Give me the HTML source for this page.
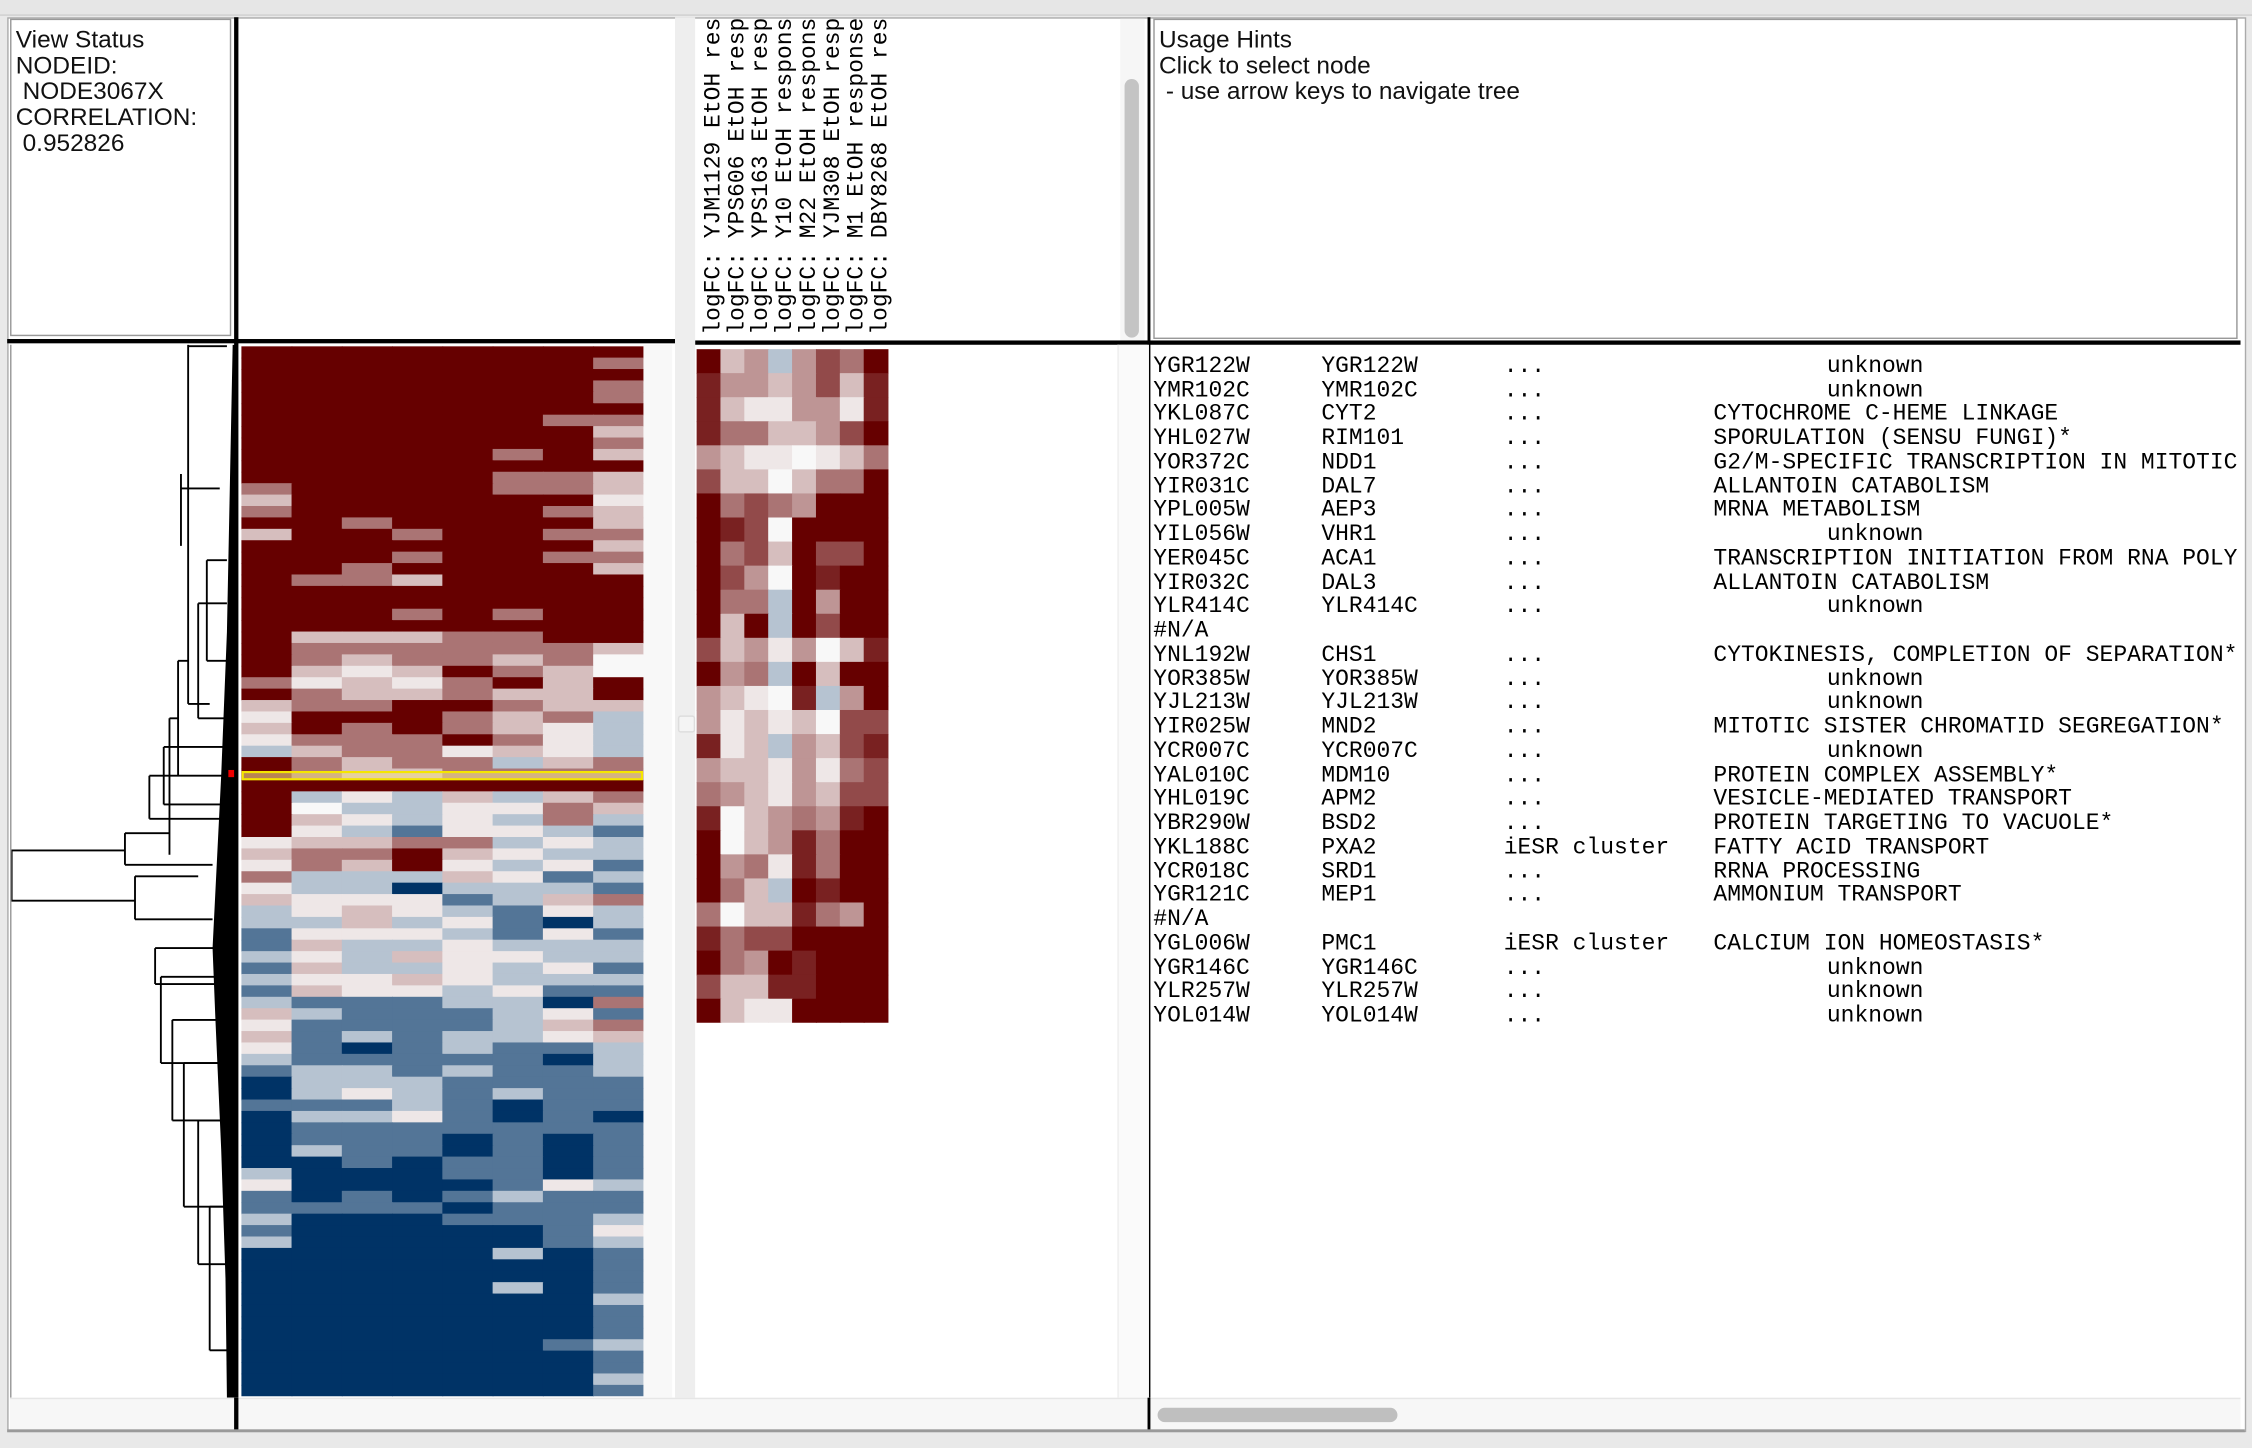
<!DOCTYPE html>
<html><head><meta charset="utf-8">
<style>
html,body{margin:0;padding:0;background:#e9e9e9;}
body{width:2252px;height:1448px;overflow:hidden;position:relative;}
#wrap{position:absolute;left:0;top:0;width:1568px;height:1008px;transform-origin:0 0;transform:scale(1.43622,1.43651);}
.abs{position:absolute;}
.sans{font-family:"Liberation Sans",sans-serif;color:#111;}
.mono{font-family:"Liberation Mono",monospace;color:#000;}
.gl{position:absolute;font-size:16px;line-height:16.74px;white-space:pre;}
</style></head><body>
<div id="wrap">
  <div class="abs" style="left:0;top:0;width:1568px;height:10px;background:#e6e6e6;border-bottom:1px solid #cfcfcf"></div>
  <div class="abs" style="left:5px;top:12px;width:1557px;height:983px;background:#fff;border:1px solid #aaa"></div>

  <div class="abs sans" style="left:7px;top:13px;width:154px;height:221px;border:1px solid #999;font-size:17px;line-height:18px;padding:5px 0 0 3px;box-sizing:border-box;white-space:pre">View Status
NODEID:
 NODE3067X
CORRELATION:
 0.952826</div>

  <div class="abs sans" style="left:803px;top:13px;width:755px;height:223px;border:1px solid #999;font-size:17px;line-height:18px;padding:5px 0 0 3px;box-sizing:border-box;white-space:pre">Usage Hints
Click to select node
 - use arrow keys to navigate tree</div>

  <div class="abs" style="left:484px;top:13px;width:296px;height:222px;overflow:hidden">
    <svg width="296" height="222" id="hdr"></svg>
  </div>
  <div class="abs" style="left:472px;top:14px;font-size:10px;color:#aaa;line-height:14px">◀<br>▶</div>
  <div class="abs" style="left:780px;top:13px;width:17px;height:224px;background:#f6f6f6"></div>
  <div class="abs" style="left:783px;top:55px;width:10px;height:180px;background:#c4c4c4;border-radius:5px"></div>

  <div class="abs" style="left:163px;top:12px;width:3px;height:984px;background:#000"></div>
  <div class="abs" style="left:799px;top:12px;width:2px;height:984px;background:#000"></div>
  <div class="abs" style="left:5px;top:236px;width:465px;height:3px;background:#000"></div>
  <div class="abs" style="left:484px;top:237px;width:1076px;height:3px;background:#000"></div>
  <div class="abs" style="left:470px;top:12px;width:14px;height:984px;background:#eeeeee"></div>
  <div class="abs" style="left:448px;top:240px;width:20px;height:733px;background:#f8f8f8"></div>
  <div class="abs" style="left:472px;top:498px;width:10px;height:10px;background:#f4f4f4;border:1px solid #ddd;border-radius:2px"></div>
  <div class="abs" style="left:778px;top:240px;width:21px;height:733px;background:#fafafa;border-left:1px solid #eee"></div>

  <div class="abs" style="left:7px;top:240px;width:156px;height:733px;border-left:1px solid #999">
    <svg width="156" height="733" id="dendro"></svg>
  </div>

  <svg class="abs" style="left:168px;top:241px" width="280" height="731" id="globalmap"></svg>
  <svg class="abs" style="left:485px;top:243px" width="134" height="469" id="zoommap"></svg>

  <div class="abs mono" style="left:803px;top:247px;width:755px;height:723px;overflow:hidden" id="genes"></div>

  <div class="abs" style="left:7px;top:973px;width:1553px;height:22px;background:#f7f7f7;border-top:1px solid #e6e6e6"></div>
  <div class="abs" style="left:163px;top:973px;width:3px;height:23px;background:#000"></div>
  <div class="abs" style="left:799px;top:973px;width:2px;height:23px;background:#000"></div>
  <div class="abs" style="left:806px;top:980px;width:167px;height:10px;background:#bfbfbf;border-radius:5px"></div>
  <div class="abs" style="left:5px;top:995px;width:1558px;height:2px;background:#9a9a9a"></div>
</div>

<script>
const colLabels = ["logFC: YJM1129 EtOH response","logFC: YPS606 EtOH response","logFC: YPS163 EtOH response","logFC: Y10 EtOH response","logFC: M22 EtOH response","logFC: YJM308 EtOH response","logFC: M1 EtOH response","logFC: DBY8268 EtOH response"];
const levelCodes = "RqmrspwWlbB";
const levelValues = [3, 2.6, 2.1, 1.6, 1.2, 0.7, 0.2, 0, -0.8, -2, -3];
const globalRows = [
"RRRRRRRR","RRRRRRRr","RRRRRRRR","RRRRRRRr","RRRRRRRr","RRRRRRRR","RRRRRRrr","RRRRRRRp",
"RRRRRRRr","RRRRRrRp","RRRRRRRR","RRRRRrrp","rRRRRrrp","pRRRRRRw","rRRRRRrp","RRrRRRRp",
"pRRrRRrr","RRRRRRRp","RRRrRRrr","RRrRRRRp","RrrpRRRR","RRRRRRRR","RRRRRRRR","RRRrRrRR",
"RRRRRRRR","RppprrRR","Rrrrrrrp","RrprrprW","RpwpRrpW","rwpwrRpR","RrpprppR","prrRRrpp",
"wRRRrprl","pRrRrpwl","wrrrRrwl","lprrwpwl","Rrprrlpr","Rrpprrrr","RRRRRRRR","Rlwlplpr",
"RWllwwrp","Rpwlwlrl","Rwlbwwlb","wpprrlwl","prrRpwll","wrpRwlwb","rlllpwbl","wllBlllb",
"pwwwblpr","lwpwlbwl","llplwbBl","bwwwlbwb","bpllwlll","lwlpwwll","bpllwlwb","lwwpwlll",
"bpwwlwbb","lbbbllBr","plbbblwb","wbbbblpr","pblbllwp","wbBblbbl","lbbbbbBl","bllblbbl",
"Blllbbbb","Blwlblbb","bbblbBbb","BllwbBbB","Bbbbbbbb","BbbbBbBb","BlbbBbBb","BBbBbbBb",
"lBBBbbBb","wBBBBbwl","bBbBblbb","bbbbBbbb","lBBBbbbl","bBBBBBbw","lBBBBBbl","BBBBBlBb",
"BBBBBBBb","BBBBBBBb","BBBBBlBb","BBBBBBBl","BBBBBBBb","BBBBBBBb","BBBBBBBb","BBBBBBbl",
"BBBBBBBb","BBBBBBBb","BBBBBBBl","BBBBBBBb"];
const zoomRows = [
"RpslsmrR","qsspsmpq","qpwwsswq","qrrppsmR","spwwWwpr","mppWprrR","RrmrsRRR","RqmWRRRR",
"RrmpRmmR","RmsWRqRR","RrrlRsRR","RpRlRmRR","mpswsWpq","RsrlRpRR","spwWqlsR","swpwpWmm",
"qwplspmq","sppwswrm","rspwspmm","qWpsrsqR","RWpsqrRR","RsrwqrRR","RrplRqRR","rWppqrsR",
"qrmmRRRR","RrsRqRRR","mppqqRRR","RpwwRRRR"];
const selectedRow = 37.5;
const geneIds = ["YGR122W","YMR102C","YKL087C","YHL027W","YOR372C","YIR031C","YPL005W","YIL056W","YER045C","YIR032C","YLR414C","#N/A","YNL192W","YOR385W","YJL213W","YIR025W","YCR007C","YAL010C","YHL019C","YBR290W","YKL188C","YCR018C","YGR121C","#N/A","YGL006W","YGR146C","YLR257W","YOL014W"];
const geneNames = ["YGR122W","YMR102C","CYT2","RIM101","NDD1","DAL7","AEP3","VHR1","ACA1","DAL3","YLR414C","","CHS1","YOR385W","YJL213W","MND2","YCR007C","MDM10","APM2","BSD2","PXA2","SRD1","MEP1","","PMC1","YGR146C","YLR257W","YOL014W"];
const geneCluster = ["...","...","...","...","...","...","...","...","...","...","...","","...","...","...","...","...","...","...","...","iESR cluster","...","...","","iESR cluster","...","...","..."];
const geneProcess = ["unknown","unknown","CYTOCHROME C-HEME LINKAGE","SPORULATION (SENSU FUNGI)*","G2/M-SPECIFIC TRANSCRIPTION IN MITOTIC CELL CYCLE","ALLANTOIN CATABOLISM","MRNA METABOLISM","unknown","TRANSCRIPTION INITIATION FROM RNA POLYMERASE II","ALLANTOIN CATABOLISM","unknown","","CYTOKINESIS, COMPLETION OF SEPARATION*","unknown","unknown","MITOTIC SISTER CHROMATID SEGREGATION*","unknown","PROTEIN COMPLEX ASSEMBLY*","VESICLE-MEDIATED TRANSPORT","PROTEIN TARGETING TO VACUOLE*","FATTY ACID TRANSPORT","RRNA PROCESSING","AMMONIUM TRANSPORT","","CALCIUM ION HOMEOSTASIS*","unknown","unknown","unknown"];

const NS="http://www.w3.org/2000/svg";
function colorFor(v){
  const t=Math.min(1,Math.abs(v)/3);
  const dark = v>=0 ? [102,0,0] : [0,51,102];
  const c=[0,1,2].map(i=>Math.round(248+(dark[i]-248)*t));
  return "rgb("+c.join(",")+")";
}
function valueOf(ch){return levelValues[levelCodes.indexOf(ch)];}
function drawMap(svg, rows, w, h, nameBase){
  const nc=colLabels.length, cw=w/nc, rh=h/rows.length;
  const xS=c=>c*cw, yS=r=>r*rh;
  rows.forEach((row,r)=>{
    for(let c=0;c<nc;c++){
      const rect=document.createElementNS(NS,"rect");
      rect.setAttribute("x",xS(c)); rect.setAttribute("y",yS(r));
      rect.setAttribute("width",cw+0.6); rect.setAttribute("height",rh+0.6);
      rect.setAttribute("fill",colorFor(valueOf(row[c])));
      
      
      svg.appendChild(rect);
    }
  });
  return {xS,yS,rh};
}
const g=drawMap(document.getElementById("globalmap"),globalRows,280,731,"global");
const sel=document.createElementNS(NS,"rect");
sel.setAttribute("x",1);sel.setAttribute("y",g.yS(selectedRow)-1.5);sel.setAttribute("width",278);sel.setAttribute("height",5);
sel.setAttribute("fill","rgba(240,220,140,0.6)");sel.setAttribute("stroke","#f5e600");sel.setAttribute("stroke-width","1.5");


document.getElementById("globalmap").appendChild(sel);
drawMap(document.getElementById("zoommap"),zoomRows,133,469,"zoom");

const hdr=document.getElementById("hdr");
colLabels.forEach((t,i)=>{
  const tx=document.createElementNS(NS,"text");
  const x=i*16.6+17, y=220;
  tx.setAttribute("x",x);tx.setAttribute("y",y);
  tx.setAttribute("transform","rotate(-90 "+x+" "+y+")");
  tx.setAttribute("font-family","Liberation Mono, monospace");tx.setAttribute("font-size","16");
  tx.textContent=t;
  
  
  hdr.appendChild(tx);
});

const gl=document.getElementById("genes");
geneIds.forEach((id,i)=>{
  const cols=[[0,id],[117,geneNames[i]],[244,geneCluster[i]],[geneProcess[i]==="unknown"?469:390,geneProcess[i]]];
  cols.forEach(([x,t],k)=>{
    if(!t) return;
    const d=document.createElement("div");
    d.className="gl";d.style.left=x+"px";d.style.top=(i*16.74)+"px";
    d.textContent=t;
    
    
    gl.appendChild(d);
  });
});

const dd=document.getElementById("dendro");
function ln(x1,y1,x2,y2,w){const l=document.createElementNS(NS,"line");l.setAttribute("x1",x1);l.setAttribute("y1",y1);l.setAttribute("x2",x2);l.setAttribute("y2",y2);l.setAttribute("stroke","#000");l.setAttribute("stroke-width",w||1.3);
dd.appendChild(l);}
const mass=document.createElementNS(NS,"polygon");
mass.setAttribute("points","154,0 156,0 156,733 150,733 149,650 146,560 142,470 140,420 143,360 146,300 150,200 152,100");
mass.setAttribute("fill","#000");


dd.appendChild(mass);
ln(0,352,0,387,1.5);ln(0,352,79,352);ln(0,387,86,387);
ln(79,340,79,362);ln(79,340,110,340);ln(79,362,140,362);
ln(86,370,86,400);ln(86,370,130,370);ln(86,400,140,400);
ln(110,260,110,355);ln(110,260,116,260);ln(116,220,116,300);ln(116,220,123,220);
ln(123,0,123,250);ln(123,1,150,1);ln(123,250,138,250);
ln(118,100,145,100);ln(118,90,118,140);
[[100,420,445],[104,440,500],[112,470,540],[120,500,600],[130,540,640],[138,600,700]].forEach(([x,a,b])=>{ln(x,a,x,b);ln(x,a,148,a);ln(x,b,150,b);});
[[96,300,330],[106,280,320],[130,180,260],[136,150,220]].forEach(([x,a,b])=>{ln(x,a,x,b);ln(x,a,150,a);ln(x,b,150,b);});
const dot=document.createElementNS(NS,"rect");dot.setAttribute("x",151);dot.setAttribute("y",296);dot.setAttribute("width",4);dot.setAttribute("height",5);dot.setAttribute("fill","#e00");


dd.appendChild(dot);
</script>
</body></html>
